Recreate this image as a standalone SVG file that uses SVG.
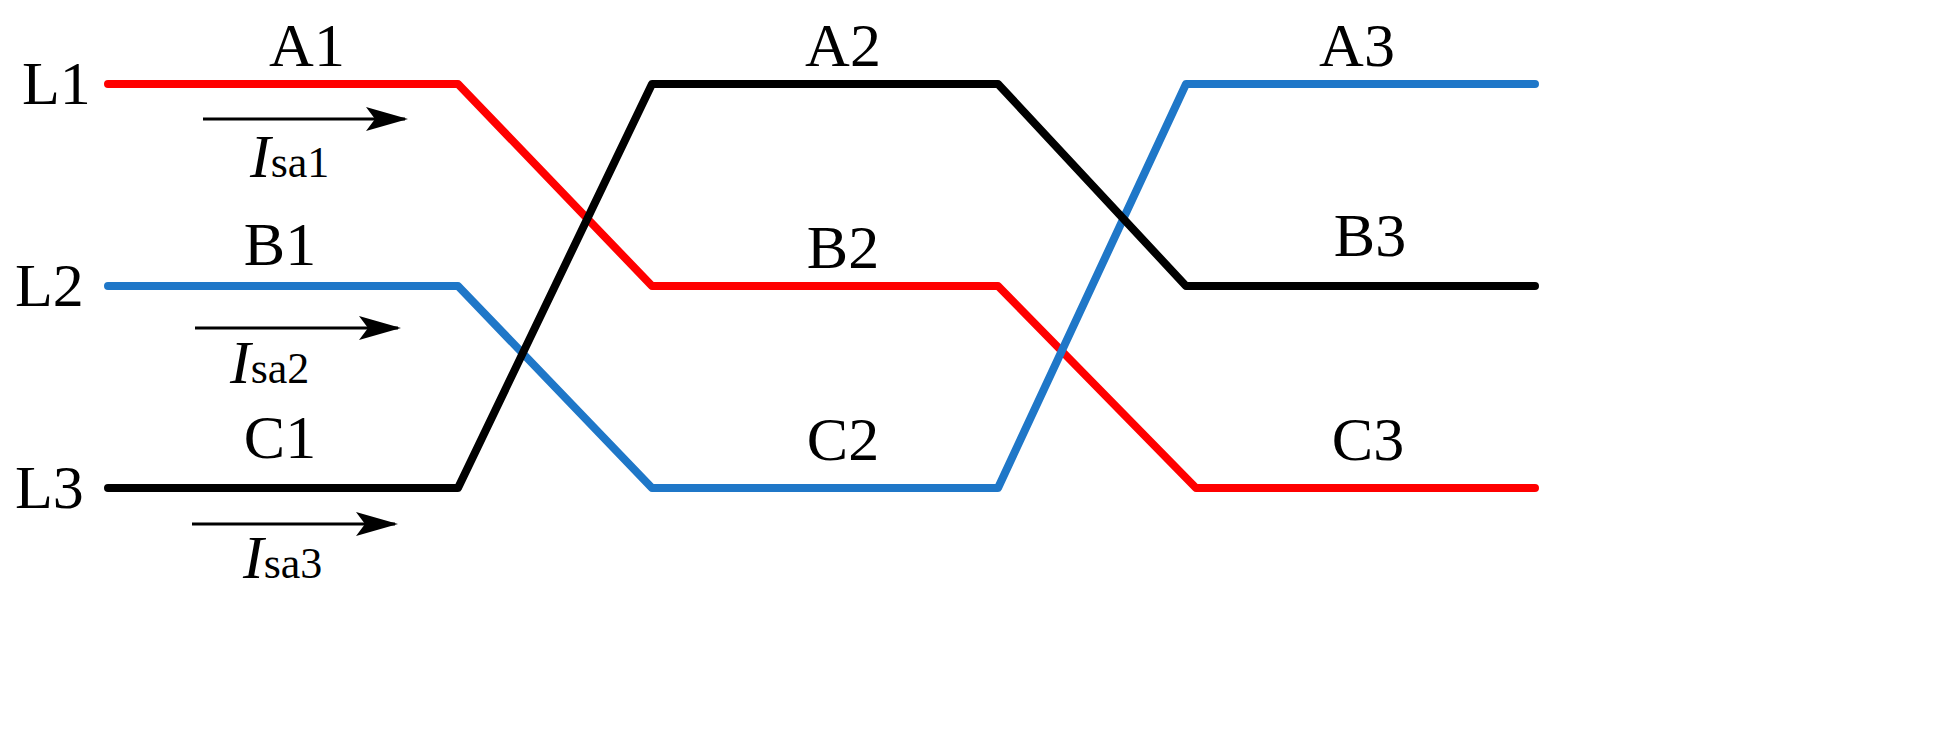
<svg xmlns="http://www.w3.org/2000/svg" width="1956" height="745" viewBox="0 0 1956 745">
<style>
.w{fill:none;stroke-width:8;stroke-linejoin:round;stroke-linecap:round}
.t{font-family:"Liberation Serif",serif;font-size:62px;fill:#000}
.s{font-size:44px}
.a{stroke:#000;stroke-width:3;marker-end:url(#ah)}
</style>
<defs><marker id="ah" markerWidth="14" markerHeight="8" refX="13" refY="4" orient="auto" markerUnits="strokeWidth"><path d="M0,0 L14,4 L0,8 L3,4 Z" fill="#000"/></marker></defs>
<rect width="1956" height="745" fill="#fff"/>
<g id="connectors">
<polyline id="red" class="w" stroke="#ff0000" points="108,84 458,84 652,286 998,286 1196,488 1535,488"/>
<polyline id="blue" class="w" stroke="#1f77c8" points="108,286 458,286 652,488 998,488 1186,84 1535,84"/>
<polyline id="black" class="w" stroke="#000" points="108,488 458,488 652,84 998,84 1186,286 1535,286"/>
<line class="a" x1="203" y1="119" x2="405" y2="119"/>
<line class="a" x1="195" y1="328" x2="398" y2="328"/>
<line class="a" x1="192" y1="524" x2="395" y2="524"/>
</g>
<g id="labels" class="t">
<text x="22" y="104">L1</text>
<text x="15" y="306">L2</text>
<text x="15" y="508">L3</text>
<text x="307" y="66" text-anchor="middle">A1</text>
<text x="843" y="66" text-anchor="middle">A2</text>
<text x="1357" y="66" text-anchor="middle">A3</text>
<text x="280" y="265" text-anchor="middle">B1</text>
<text x="843" y="268" text-anchor="middle">B2</text>
<text x="1370" y="256" text-anchor="middle">B3</text>
<text x="280" y="458" text-anchor="middle">C1</text>
<text x="843" y="460" text-anchor="middle">C2</text>
<text x="1368" y="460" text-anchor="middle">C3</text>
<text x="250" y="177"><tspan font-style="italic">I</tspan><tspan class="s">sa1</tspan></text>
<text x="230" y="383"><tspan font-style="italic">I</tspan><tspan class="s">sa2</tspan></text>
<text x="243" y="578"><tspan font-style="italic">I</tspan><tspan class="s">sa3</tspan></text>
</g>
</svg>
